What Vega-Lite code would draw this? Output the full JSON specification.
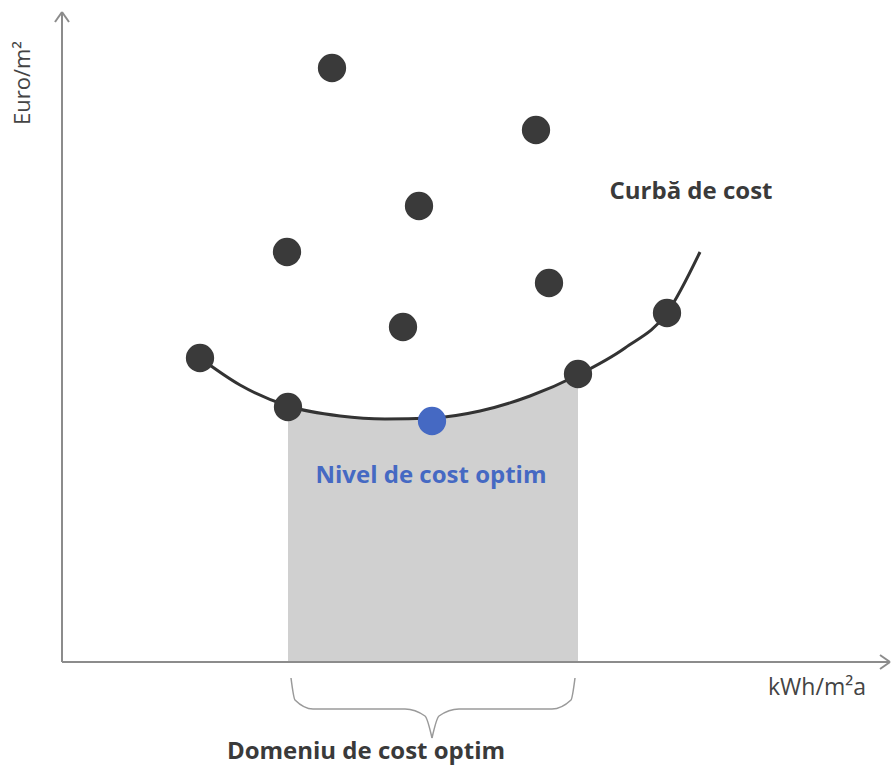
{
  "$schema": "https://vega.github.io/schema/vega-lite/v6.json",
  "width": 892,
  "height": 772,
  "autosize": {"type": "fit", "contains": "padding"},
  "padding": 0,
  "background": "white",
  "config": {"view": {"stroke": null}},
  "datasets": {
    "area": [
      {"x": 226, "y": 256}, {"x": 278, "y": 246}, {"x": 323, "y": 243}, {"x": 370, "y": 244},
      {"x": 418, "y": 251}, {"x": 468, "y": 266}, {"x": 516, "y": 287}
    ],
    "curve": [
      {"x": 138, "y": 304}, {"x": 178, "y": 277}, {"x": 226, "y": 256}, {"x": 278, "y": 246},
      {"x": 323, "y": 243}, {"x": 370, "y": 244}, {"x": 418, "y": 251}, {"x": 468, "y": 266},
      {"x": 516, "y": 287}, {"x": 563, "y": 314}, {"x": 605, "y": 349}, {"x": 638, "y": 410}
    ],
    "dots": [
      {"x": 270, "y": 594, "kind": "variant"}, {"x": 474, "y": 532, "kind": "variant"},
      {"x": 357, "y": 456, "kind": "variant"}, {"x": 225, "y": 410, "kind": "variant"},
      {"x": 487, "y": 379, "kind": "variant"}, {"x": 341, "y": 335, "kind": "variant"},
      {"x": 138, "y": 304, "kind": "variant"}, {"x": 226, "y": 255, "kind": "variant"},
      {"x": 516, "y": 288, "kind": "variant"}, {"x": 605, "y": 349, "kind": "variant"},
      {"x": 370, "y": 241, "kind": "optim"}
    ],
    "axes": [
      {"x": 0, "y": 0, "x2": 828, "y2": 0},
      {"x": 0, "y": 0, "x2": 0, "y2": 650},
      {"x": -7, "y": 640, "x2": 0, "y2": 650},
      {"x": 7, "y": 640, "x2": 0, "y2": 650},
      {"x": 818, "y": 7, "x2": 828, "y2": 0},
      {"x": 818, "y": -7, "x2": 828, "y2": 0}
    ],
    "brace": [
      {"x": 229, "y": -16, "half": "L"}, {"x": 233, "y": -38, "half": "L"}, {"x": 251, "y": -47, "half": "L"},
      {"x": 343, "y": -47, "half": "L"}, {"x": 363, "y": -54, "half": "L"}, {"x": 370, "y": -76, "half": "L"},
      {"x": 370, "y": -76, "half": "R"}, {"x": 377, "y": -54, "half": "R"}, {"x": 397, "y": -47, "half": "R"},
      {"x": 490, "y": -47, "half": "R"}, {"x": 509, "y": -38, "half": "R"}, {"x": 513, "y": -16, "half": "R"}
    ]
  },
  "encoding": {
    "x": {"type": "quantitative", "scale": {"domain": [-62, 830], "nice": false, "zero": false}, "axis": null},
    "y": {"type": "quantitative", "scale": {"domain": [-110, 662], "nice": false, "zero": false}, "axis": null}
  },
  "layer": [
    {
      "data": {"name": "area"},
      "mark": {"type": "area", "interpolate": "monotone", "color": "#d0d0d0"},
      "encoding": {"x": {"field": "x"}, "y": {"field": "y"}, "y2": {"datum": 0}}
    },
    {
      "data": {"name": "axes"},
      "mark": {"type": "rule", "color": "#8c8c8c", "strokeWidth": 2},
      "encoding": {"x": {"field": "x"}, "y": {"field": "y"}, "x2": {"field": "x2"}, "y2": {"field": "y2"}}
    },
    {
      "data": {"name": "brace"},
      "mark": {"type": "line", "interpolate": "monotone", "color": "#9a9a9a", "strokeWidth": 1.5},
      "encoding": {"x": {"field": "x"}, "y": {"field": "y"}, "detail": {"field": "half"}}
    },
    {
      "data": {"name": "curve"},
      "mark": {"type": "line", "interpolate": "monotone", "color": "#333333", "strokeWidth": 3},
      "encoding": {"x": {"field": "x"}, "y": {"field": "y"}}
    },
    {
      "data": {"name": "dots"},
      "mark": {"type": "circle", "opacity": 1, "size": 800},
      "encoding": {
        "x": {"field": "x"}, "y": {"field": "y"},
        "color": {"field": "kind", "type": "nominal", "scale": {"domain": ["variant", "optim"], "range": ["#3a3a3a", "#4569c3"]}, "legend": null}
      }
    },
    {
      "data": {"values": [
        {"x": 629, "y": 470, "t": "Curbă de cost", "c": "dark"},
        {"x": 369, "y": 186, "t": "Nivel de cost optim", "c": "blue"},
        {"x": 304, "y": -90, "t": "Domeniu de cost optim", "c": "dark"}
      ]},
      "mark": {"type": "text", "font": "Open Sans", "fontWeight": "bold", "fontSize": 24, "align": "center", "baseline": "middle"},
      "encoding": {
        "x": {"field": "x"}, "y": {"field": "y"}, "text": {"field": "t"},
        "color": {"field": "c", "type": "nominal", "scale": {"domain": ["dark", "blue"], "range": ["#1a1a1a", "#4472c4"]}, "legend": null}
      }
    },
    {
      "data": {"values": [{"x": 755, "y": -26, "t": "kWh/m²a"}]},
      "mark": {"type": "text", "font": "Open Sans", "fontSize": 23, "color": "#444444", "align": "center", "baseline": "middle"},
      "encoding": {"x": {"field": "x"}, "y": {"field": "y"}, "text": {"field": "t"}}
    },
    {
      "data": {"values": [{"x": -39, "y": 579, "t": "Euro/m²"}]},
      "mark": {"type": "text", "font": "Open Sans", "fontSize": 22, "color": "#444444", "align": "center", "baseline": "middle", "angle": 270},
      "encoding": {"x": {"field": "x"}, "y": {"field": "y"}, "text": {"field": "t"}}
    }
  ]
}
